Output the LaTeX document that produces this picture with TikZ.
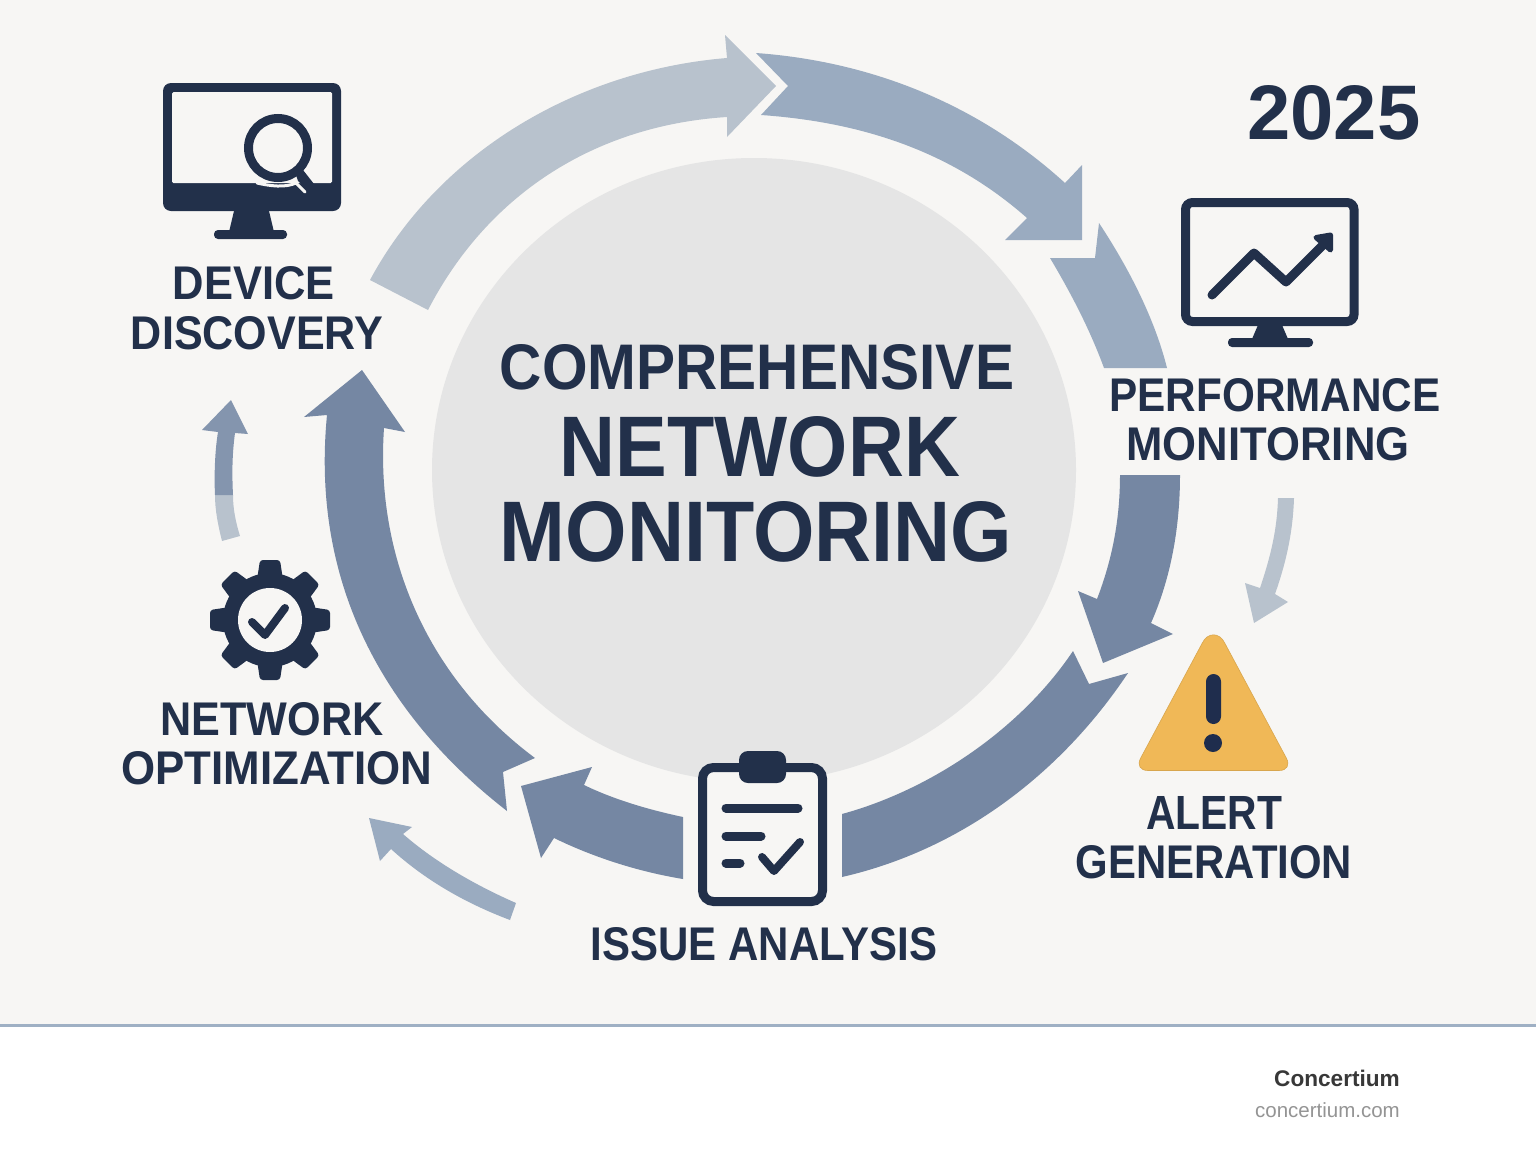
\documentclass[tikz,border=0pt]{standalone}
\usepackage{fontspec}
\setmainfont{Liberation Sans}
\usepackage{graphicx}
\definecolor{bgc}{HTML}{F7F6F4}
\definecolor{navy}{HTML}{22304A}
\definecolor{arrL}{HTML}{B8C2CD}
\definecolor{arrM}{HTML}{9AABC0}
\definecolor{arrD}{HTML}{7587A3}
\definecolor{arrU}{HTML}{8495AE}
\definecolor{disc}{HTML}{E5E5E5}
\definecolor{rulec}{HTML}{9FB0C4}
\definecolor{warn}{HTML}{F0B857}
\definecolor{warnD}{HTML}{1F2D4D}
% text fitted to a given width and cap height
\newcommand{\fitlabel}[3]{\resizebox{#1pt}{#2pt}{\bfseries #3}}
\tikzset{
  lab/.style={inner sep=0pt,outer sep=0pt,text=navy,anchor=center},
  navyline/.style={draw=navy,line cap=round,line join=round},
  screen/.style={draw=navy,line width=9pt,rounded corners=7pt,fill=bgc}
}
\begin{document}
\begin{tikzpicture}[x=1pt,y=-1pt]
\useasboundingbox (0,0) rectangle (1536,1154);
\fill[white] (0,0) rectangle (1536,1154);
\fill[bgc] (0,0) rectangle (1536,1025);
\draw[rulec,line width=3pt] (0,1025) -- (1536,1025);
% central disc
\fill[disc] (754,470) ellipse [x radius=322,y radius=312];
% ring arrows
\fill[arrL] (370,280) .. controls (440,150) and (580,70) .. (727,58) -- (725,35) -- (776,86) -- (727,137) -- (727,117) .. controls (600,125) and (490,190) .. (428,310) -- cycle;
\fill[arrM] (756,53) .. controls (880,62) and (985,110) .. (1065,183) -- (1082,165) -- (1082,240) -- (1005,240) -- (1027,218) .. controls (950,150) and (860,122) .. (761,115) -- (788,86) -- cycle;
\fill[arrM] (1099,223) .. controls (1130,270) and (1155,320) .. (1167,368) -- (1104,368) .. controls (1090,330) and (1072,295) .. (1050,258) -- (1095,258) -- cycle;
\fill[arrD] (1120,475) -- (1180,475) .. controls (1180,530) and (1170,580) .. (1151,623) -- (1173,634) -- (1103,663) -- (1078,591) -- (1097,599) .. controls (1112,560) and (1120,520) .. (1120,475) -- cycle;
\fill[arrD] (842,814) .. controls (930,790) and (1020,730) .. (1073,651) -- (1089,684) -- (1128,673) .. controls (1060,775) and (960,850) .. (842,877) -- cycle;
\fill[arrD] (683,817) .. controls (650,810) and (615,800) .. (584,785) -- (592,767) -- (521,786) -- (541,858) -- (554,838) .. controls (595,858) and (640,872) .. (683,879) -- cycle;
\fill[arrD] (362,370) -- (405,432) -- (384,428) .. controls (375,560) and (430,680) .. (535,758) -- (503,772) -- (507,811) .. controls (390,720) and (310,590) .. (327,415) -- (304,417) -- cycle;
% small arrows
\fill[arrL] (215,495) -- (233,495) .. controls (233,510) and (236,523) .. (240,536) -- (222,541) .. controls (218,525) and (215,510) .. (215,495) -- cycle;
\fill[arrU] (215,495) .. controls (214,475) and (215,450) .. (218,432) -- (202,430) -- (231,400) -- (248,434) -- (235,433) .. controls (232,455) and (232,475) .. (233,495) -- cycle;
\fill[arrM] (516,903) .. controls (475,885) and (435,862) .. (403,834) -- (412,827) -- (369,818) -- (380,861) -- (391,849) .. controls (425,880) and (465,903) .. (510,920) -- cycle;
\fill[arrL] (1278,498) -- (1294,498) .. controls (1293,530) and (1287,560) .. (1275,594) -- (1288,602) -- (1254,623) -- (1245,583) -- (1260,588) .. controls (1271,555) and (1277,530) .. (1278,498) -- cycle;
% monitor with magnifier
\fill[navy,rounded corners=8pt] (163,83) rectangle (341,211);
\fill[bgc,rounded corners=1.5pt] (172,92) rectangle (332,183);
\fill[navy] (234,211) -- (269,211) -- (274,232) -- (229,232) -- cycle;
\fill[navy,rounded corners=4pt] (214,230) rectangle (287,239);
\draw[bgc,line width=3pt,line cap=round] (257,183) .. controls (270,186) and (285,188) .. (296,183) -- (305,192);
\draw[navy,line width=9pt,fill=bgc] (278,148) circle [radius=29.5];
\fill[navy] (295,172) -- (303,170) -- (314,184) -- (303,186) -- (298,181) -- cycle;
% monitor with chart
\draw[screen] (1185.5,202.5) rectangle (1354,321.5);
\fill[navy] (1258,325) -- (1282,325) -- (1288,339) -- (1252,339) -- cycle;
\fill[navy,rounded corners=4pt] (1228,338) rectangle (1313,347);
\draw[navyline,line width=9pt] (1212,295) -- (1254,253) -- (1286,282) -- (1323,245);
\fill[navy,draw=navy,line width=5pt,line join=round] (1316,237.5) -- (1330.5,235) -- (1330.5,250) -- cycle;
% gear
\fill[navy] (270,620) circle [radius=47];
\foreach \a in {0,45,...,315}{
  \fill[navy,rotate around={\a:(270,620)},rounded corners=3pt] (257,580) -- (260,560) -- (280,560) -- (283,580) -- cycle;
}
\fill[bgc] (270,620) circle [radius=32];
\draw[navyline,line width=8pt] (252,622) -- (265,635) -- (285,608);
% clipboard
\draw[navy,line width=9pt,rounded corners=11pt,fill=bgc] (702.5,767.5) rectangle (822.5,901.5);
\fill[navy,rounded corners=9pt] (739,751) rectangle (786,783);
\draw[navyline,line width=9pt] (726,808) -- (798,808);
\draw[navyline,line width=9pt] (726,836) -- (761,836);
\draw[navyline,line width=9pt] (726,863) -- (740,863);
\draw[navyline,line width=8pt] (762,857) -- (774,871) -- (800,842);
% warning triangle
\fill[warn,draw=warn!90!black,line width=0.6pt] (1202.2,643.2) .. controls (1207.4,632) and (1219.6,632) .. (1224.8,643.2) -- (1286.4,758.2) .. controls (1290,765) and (1287,770.5) .. (1279,770.5) -- (1148,770.5) .. controls (1140,770.5) and (1137,765) .. (1140.6,758.2) -- cycle;
\fill[warnD,rounded corners=7.5pt] (1206,674) rectangle (1221,724);
\fill[warnD] (1213,743) circle [radius=9];
% labels
\node[lab] (ctrA) at (757,367) {\fitlabel{514}{45}{COMPREHENSIVE}};
\node[lab] (ctrB) at (760,447) {\fitlabel{400}{60}{NETWORK}};
\node[lab] (ctrC) at (756,532) {\fitlabel{512}{60}{MONITORING}};
\node[lab] (yr) at (1334,113) {\fitlabel{173}{54}{2025}};
\node[lab] (devA) at (254,283) {\fitlabel{162}{33}{DEVICE}};
\node[lab] (devB) at (257,333) {\fitlabel{252}{33}{DISCOVERY}};
\node[lab] (perfA) at (1275,395) {\fitlabel{331}{33}{PERFORMANCE}};
\node[lab] (perfB) at (1268,444) {\fitlabel{283}{33}{MONITORING}};
\node[lab] (alA) at (1214,813) {\fitlabel{136}{33}{ALERT}};
\node[lab] (alB) at (1214,862) {\fitlabel{276}{33}{GENERATION}};
\node[lab] (optA) at (272,719) {\fitlabel{223}{33}{NETWORK}};
\node[lab] (optB) at (277,768) {\fitlabel{311}{33}{OPTIMIZATION}};
\node[lab] (iss) at (764,944) {\fitlabel{346}{33}{ISSUE ANALYSIS}};
\node[inner sep=0pt,anchor=east,text=black!78] (brA) at (1400,1078) {\fontsize{22.6}{26}\selectfont\bfseries Concertium};
\node[inner sep=0pt,anchor=east,text=black!42] (brB) at (1400,1110) {\fontsize{20.5}{24}\selectfont concertium.com};
\end{tikzpicture}
\end{document}
